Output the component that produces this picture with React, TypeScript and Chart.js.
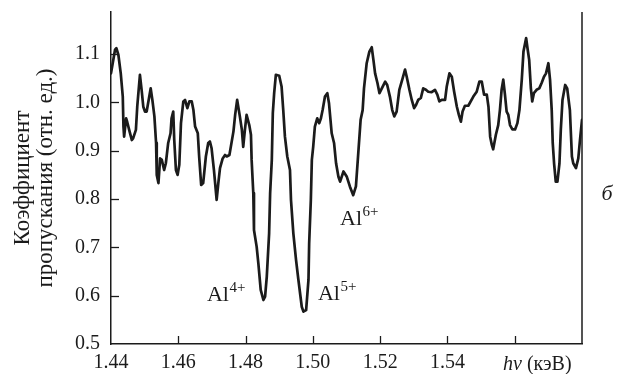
import { useEffect, useRef } from 'react';
import { Chart, registerables } from 'chart.js';

Chart.register(...registerables);

// Photon energy, keV
const energies = [
  1.4400, 1.4412, 1.4416, 1.4422, 1.4429, 1.4435, 1.4437, 1.4439, 1.4445, 1.4448,
  1.4454, 1.4462, 1.4466, 1.4474, 1.4478, 1.4486, 1.4491, 1.4496, 1.4501, 1.4506,
  1.4513, 1.4518, 1.4523, 1.4529, 1.4534, 1.4536, 1.4541, 1.4546, 1.4551, 1.4558,
  1.4563, 1.4570, 1.4577, 1.4580, 1.4585, 1.4588, 1.4593, 1.4598, 1.4603, 1.4608,
  1.4615, 1.4620, 1.4627, 1.4633, 1.4640, 1.4645, 1.4650, 1.4658, 1.4662, 1.4668,
  1.4674, 1.4682, 1.4689, 1.4694, 1.4699, 1.4706, 1.4714, 1.4719, 1.4724, 1.4732,
  1.4739, 1.4744, 1.4752, 1.4764, 1.4769, 1.4775, 1.4783, 1.4789, 1.4793, 1.4798,
  1.4803, 1.4811, 1.4816, 1.4818, 1.4823, 1.4825, 1.4833, 1.4838, 1.4845, 1.4853,
  1.4858, 1.4863, 1.4870, 1.4873, 1.4878, 1.4881, 1.4885, 1.4890, 1.4900, 1.4907,
  1.4912, 1.4917, 1.4924, 1.4932, 1.4935, 1.4942, 1.4950, 1.4957, 1.4967, 1.4972,
  1.4980, 1.4987, 1.4989, 1.4994, 1.4997, 1.5001, 1.5006, 1.5013, 1.5019, 1.5024,
  1.5029, 1.5036, 1.5043, 1.5048, 1.5056, 1.5063, 1.5069, 1.5076, 1.5081, 1.5091,
  1.5101, 1.5110, 1.5120, 1.5128, 1.5135, 1.5142, 1.5148, 1.5152, 1.5160, 1.5168,
  1.5175, 1.5180, 1.5185, 1.5192, 1.5198, 1.5205, 1.5215, 1.5221, 1.5229, 1.5236,
  1.5242, 1.5249, 1.5257, 1.5267, 1.5274, 1.5279, 1.5287, 1.5294, 1.5301, 1.5307,
  1.5313, 1.5321, 1.5328, 1.5336, 1.5343, 1.5353, 1.5363, 1.5370, 1.5376, 1.5383,
  1.5393, 1.5398, 1.5406, 1.5413, 1.5420, 1.5428, 1.5434, 1.5440, 1.5445, 1.5452,
  1.5462, 1.5477, 1.5487, 1.5495, 1.5502, 1.5509, 1.5517, 1.5522, 1.5527, 1.5532,
  1.5536, 1.5544, 1.5551, 1.5556, 1.5561, 1.5566, 1.5571, 1.5576, 1.5581, 1.5586,
  1.5593, 1.5601, 1.5608, 1.5614, 1.5621, 1.5626, 1.5634, 1.5638, 1.5643, 1.5648,
  1.5652, 1.5657, 1.5665, 1.5673, 1.5680, 1.5687, 1.5693, 1.5700, 1.5705, 1.5710,
  1.5713, 1.5717, 1.5722, 1.5727, 1.5733, 1.5737, 1.5742, 1.5750, 1.5756, 1.5764,
  1.5770, 1.5774, 1.5782, 1.5789, 1.5794, 1.5800,
];

// Transmission coefficient (rel. units)
const transmission = [
  1.060, 1.109, 1.112, 1.098, 1.060, 1.012, 0.950, 0.929, 0.967, 0.960,
  0.943, 0.922, 0.926, 0.943, 0.991, 1.057, 1.026, 0.991, 0.981, 0.981,
  1.009, 1.029, 1.005, 0.971, 0.916, 0.850, 0.833, 0.884, 0.881, 0.860,
  0.874, 0.916, 0.936, 0.967, 0.981, 0.922, 0.860, 0.850, 0.871, 0.957,
  1.002, 1.005, 0.988, 1.002, 1.002, 0.984, 0.950, 0.936, 0.888, 0.829,
  0.833, 0.888, 0.916, 0.919, 0.905, 0.860, 0.798, 0.833, 0.864, 0.884,
  0.891, 0.888, 0.891, 0.940, 0.974, 1.005, 0.971, 0.943, 0.908, 0.943,
  0.974, 0.953, 0.933, 0.881, 0.812, 0.736, 0.701, 0.667, 0.612, 0.591,
  0.598, 0.639, 0.729, 0.812, 0.881, 0.978, 1.019, 1.057, 1.055, 1.033,
  0.984, 0.929, 0.888, 0.860, 0.798, 0.729, 0.674, 0.633, 0.577, 0.567,
  0.570, 0.633, 0.708, 0.798, 0.881, 0.908, 0.950, 0.967, 0.957, 0.967,
  0.984, 1.012, 1.019, 0.998, 0.936, 0.916, 0.874, 0.846, 0.836, 0.857,
  0.846, 0.826, 0.808, 0.826, 0.895, 0.964, 0.984, 1.029, 1.081, 1.105,
  1.114, 1.088, 1.060, 1.040, 1.019, 1.029, 1.043, 1.036, 1.012, 0.984,
  0.971, 0.981, 1.026, 1.050, 1.068, 1.053, 1.026, 1.005, 0.988, 0.995,
  1.005, 1.009, 1.029, 1.026, 1.022, 1.021, 1.026, 1.016, 1.002, 1.005,
  1.005, 1.033, 1.060, 1.053, 1.022, 0.991, 0.974, 0.960, 0.981, 0.993,
  0.993, 1.012, 1.022, 1.043, 1.043, 1.016, 1.016, 0.991, 0.929, 0.912,
  0.903, 0.933, 0.953, 0.984, 1.026, 1.047, 1.016, 0.981, 0.974, 0.953,
  0.944, 0.944, 0.957, 0.984, 1.047, 1.105, 1.133, 1.112, 1.088, 1.029,
  1.002, 1.019, 1.026, 1.029, 1.040, 1.053, 1.060, 1.081, 1.047, 0.984,
  0.916, 0.874, 0.836, 0.836, 0.874, 0.943, 1.005, 1.036, 1.029, 0.984,
  0.888, 0.874, 0.864, 0.884, 0.922, 0.964,
];

const xMin = 1.44;
const xMax = 1.58;
const xStep = 0.02;
const xLabelLimit = 1.55; // ticks beyond this carry no numeric label
const yMin = 0.5;
const yMax = 1.187;
const yStep = 0.1;
const yLabelLimit = 1.15;

const yTitleLines = ['Коэффициент', 'пропускания (отн. ед.)'];
const unitSymbol = 'hν';
const unitText = ' (кэВ)';
const panelLabel = 'б';

const annotationIons = ['Al', 'Al', 'Al'];
const annotationCharges = ['4+', '5+', '6+'];
const annotationX = [1.4685, 1.5015, 1.5081];
const annotationY = [0.589, 0.591, 0.746];

const FONT = '"Liberation Serif", "Times New Roman", serif';
const INK = '#1b1b1b';

const decorPlugin = {
  id: 'decor',
  afterDraw(chart: any) {
    const { ctx, chartArea: ca, scales } = chart;
    const x = scales.x;
    const y = scales.y;
    ctx.save();
    ctx.strokeStyle = INK;
    ctx.lineWidth = 1.5;
    // right frame line
    ctx.beginPath();
    ctx.moveTo(ca.right, ca.top);
    ctx.lineTo(ca.right, ca.bottom);
    ctx.stroke();
    // inward tick marks
    ctx.lineWidth = 1.3;
    x.ticks.forEach((t: any) => {
      if (t.value > xMin + 1e-6 && t.value < xMax - 1e-6) {
        const px = Math.round(x.getPixelForValue(t.value)) + 0.5;
        ctx.beginPath();
        ctx.moveTo(px, ca.bottom);
        ctx.lineTo(px, ca.bottom - 8);
        ctx.stroke();
      }
    });
    y.ticks.forEach((t: any) => {
      if (t.value > yMin + 1e-6 && t.value < yLabelLimit) {
        const py = Math.round(y.getPixelForValue(t.value)) + 0.5;
        ctx.beginPath();
        ctx.moveTo(ca.left, py);
        ctx.lineTo(ca.left + 8, py);
        ctx.stroke();
      }
    });
    // ion annotations
    ctx.fillStyle = INK;
    ctx.textBaseline = 'alphabetic';
    ctx.textAlign = 'left';
    annotationIons.forEach((ion, i) => {
      const px = x.getPixelForValue(annotationX[i]);
      const py = y.getPixelForValue(annotationY[i]);
      ctx.font = `22px ${FONT}`;
      ctx.fillText(ion, px, py);
      const w = ctx.measureText(ion).width;
      ctx.font = `15px ${FONT}`;
      ctx.fillText(annotationCharges[i], px + w + 0.5, py - 9);
    });
    // axis unit label
    ctx.font = `italic 20px ${FONT}`;
    const ux = 503;
    const uy = ca.bottom + 26;
    ctx.fillText(unitSymbol, ux, uy);
    const sw = ctx.measureText(unitSymbol).width;
    ctx.font = `20px ${FONT}`;
    ctx.fillText(unitText, ux + sw, uy);
    // panel label
    ctx.font = `italic 22px ${FONT}`;
    ctx.textAlign = 'center';
    ctx.fillText(panelLabel, 607, 200);
    ctx.restore();
  },
};

export default function App() {
  const ref = useRef<HTMLCanvasElement | null>(null);

  useEffect(() => {
    if (!ref.current) return;
    const chart = new Chart(ref.current, {
      type: 'line',
      data: {
        datasets: [
          {
            data: energies.map((e, i) => ({ x: e, y: transmission[i] })),
            borderColor: INK,
            borderWidth: 2.7,
            borderJoinStyle: 'round',
            borderCapStyle: 'round',
            pointRadius: 0,
            tension: 0,
            fill: false,
          },
        ],
      },
      options: {
        animation: false,
        responsive: false,
        devicePixelRatio: 1,
        layout: { padding: { top: 12, right: 46, left: 0, bottom: 0 } },
        plugins: { legend: { display: false }, tooltip: { enabled: false } },
        scales: {
          x: {
            type: 'linear',
            min: xMin,
            max: xMax,
            grid: { display: false, drawTicks: false },
            border: { display: true, color: INK, width: 1.5 },
            ticks: {
              stepSize: xStep,
              autoSkip: false,
              maxRotation: 0,
              padding: 7,
              color: INK,
              font: { family: FONT, size: 20 },
              callback: (v: any) => (Number(v) < xLabelLimit ? Number(v).toFixed(2) : ''),
            },
            afterFit: (s: any) => {
              s.height = 30;
              s.paddingLeft = 0;
              s.paddingRight = 0;
            },
          },
          y: {
            type: 'linear',
            min: yMin,
            max: yMax,
            grid: { display: false, drawTicks: false },
            border: { display: true, color: INK, width: 1.5 },
            afterBuildTicks: (s: any) => {
              s.ticks = s.ticks.filter((t: any) => t.value < yLabelLimit);
            },
            ticks: {
              stepSize: yStep,
              padding: 11,
              color: INK,
              font: { family: FONT, size: 20 },
              callback: (v: any) => Number(v).toFixed(1),
            },
            title: {
              display: true,
              text: yTitleLines,
              color: INK,
              font: { family: FONT, size: 23, lineHeight: 1.0 },
              padding: { top: 11, bottom: 0 },
            },
            afterFit: (s: any) => {
              s.width = 111;
              s.paddingTop = 0;
              s.paddingBottom = 0;
            },
          },
        },
      },
      plugins: [decorPlugin],
    });
    return () => chart.destroy();
  }, []);

  return (
    <div style={{ position: 'absolute', left: 0, top: 0, width: 628, height: 374, background: '#fff' }}>
      <canvas ref={ref} width={628} height={374} style={{ display: 'block' }} />
    </div>
  );
}
